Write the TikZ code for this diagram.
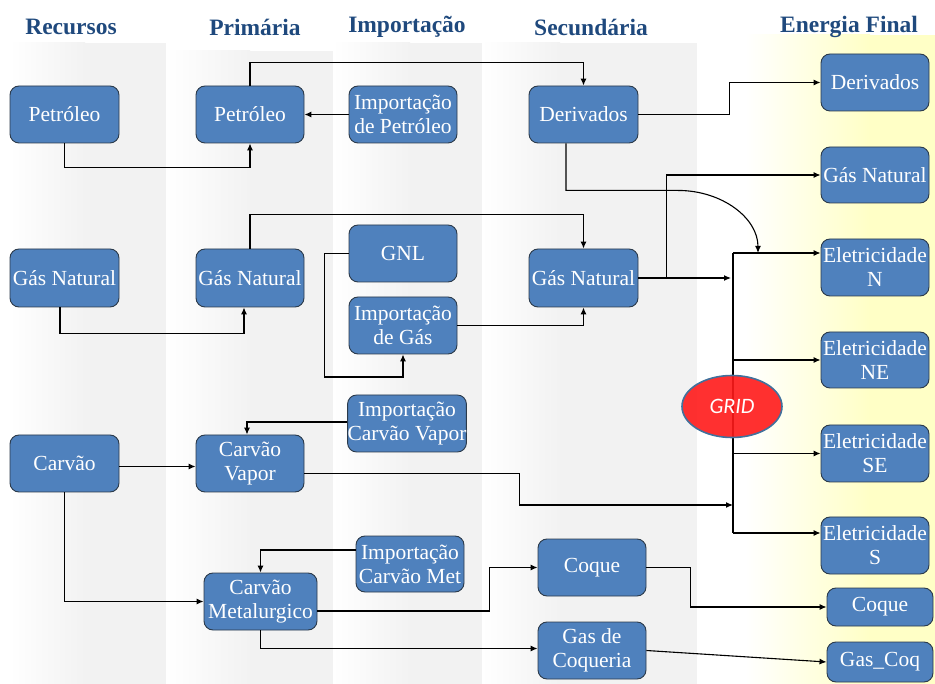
\documentclass[tikz,border=0pt]{standalone}
\usepackage{fontspec}
\setmainfont{Liberation Serif}
\newfontfamily\gridfont{Carlito}
\usetikzlibrary{arrows.meta,shapes.geometric}
\definecolor{boxblue}{HTML}{4F81BD}
\definecolor{boxedge}{HTML}{2B3A4A}
\definecolor{headblue}{HTML}{1F497D}
\definecolor{bandgray}{HTML}{F2F2F2}
\definecolor{bandyellow}{HTML}{FFFFC6}
\definecolor{gridred}{HTML}{FF1A1A}
\definecolor{gridedge}{HTML}{41719C}
\tikzset{
  box/.style={draw=boxedge, line width=0.9pt, fill=boxblue, rounded corners=9pt,
    text=white, align=center, inner sep=0pt,
    font=\fontsize{21.5}{24}\selectfont},
  head/.style={text=headblue, font=\fontsize{23.5}{26}\selectfont\bfseries},
  arr/.style={draw=black, line width=1.1pt, -{Latex[length=7pt,width=6pt]}},
  ln/.style={draw=black, line width=1.1pt},
}
\begin{document}
\begin{tikzpicture}[x=1pt,y=-1pt]
\useasboundingbox (0,0) rectangle (935,684);
% bands
\shade[left color=white, right color=bandgray] (10,43) rectangle (85,684);
\fill[bandgray] (84.5,43) rectangle (166,684);
\shade[left color=white, right color=bandgray] (166,51) rectangle (250,684);
\fill[bandgray] (249.5,51) rectangle (333,684);
\shade[left color=white, right color=bandgray] (333,43) rectangle (410,684);
\fill[bandgray] (409.5,43) rectangle (482,684);
\shade[left color=white, right color=bandgray] (482,43) rectangle (560,684);
\fill[bandgray] (559.5,43) rectangle (697,684);
\shade[left color=white, right color=bandyellow] (745,35) rectangle (870,684);
\fill[bandyellow] (869.5,35) rectangle (935,684);
% headers
\node[head] (h1) at (71,27) {Recursos};
\node[head] (h2) at (255,27) {Primária};
\node[head] (h3) at (407,27) {Importação};
\node[head] (h4) at (591,27) {Secundária};
\node[head] (h5) at (849,27) {Energia Final};
% nodes
\node[box, minimum width=109pt, minimum height=57pt] (pr) at (64.5,114.5) {Petróleo};
\node[box, minimum width=108pt, minimum height=57pt] (pp) at (250,114.5) {Petróleo};
\node[box, minimum width=108pt, minimum height=57pt] (ip) at (403,114.5) {Importação\\de Petróleo};
\node[box, minimum width=109pt, minimum height=57pt] (ds) at (583.5,114.5) {Derivados};
\node[box, minimum width=108pt, minimum height=57pt] (df) at (875,82.5) {Derivados};
\node[box, minimum width=108pt, minimum height=56pt] (gf) at (875,175) {Gás Natural};
\node[box, minimum width=109pt, minimum height=58pt] (gr) at (64.5,278) {Gás Natural};
\node[box, minimum width=108pt, minimum height=58pt] (gp) at (250,278) {Gás Natural};
\node[box, minimum width=108pt, minimum height=57pt] (gnl) at (403,253.5) {GNL};
\node[box, minimum width=108pt, minimum height=57pt] (ig) at (403,325.5) {Importação\\de Gás};
\node[box, minimum width=109pt, minimum height=58pt] (gs) at (583.5,278) {Gás Natural};
\node[box, minimum width=108pt, minimum height=57pt] (en) at (875,267.5) {Eletricidade\\N};
\node[box, minimum width=108pt, minimum height=56pt] (ene) at (875,360) {Eletricidade\\NE};
\node[box, minimum width=116pt, minimum height=57pt] (icv) at (407,423.5) {Importação\\Carvão Vapor};
\node[box, minimum width=109pt, minimum height=57pt] (cr) at (64.5,463.5) {Carvão};
\node[box, minimum width=108pt, minimum height=57pt] (cvp) at (250,463.5) {Carvão\\Vapor};
\node[box, minimum width=108pt, minimum height=57pt] (ese) at (875,453.5) {Eletricidade\\SE};
\node[box, minimum width=108pt, minimum height=57pt] (es) at (875,545.5) {Eletricidade\\S};
\node[box, minimum width=108pt, minimum height=56pt] (icm) at (410,564) {Importação\\Carvão Met};
\node[box, minimum width=113pt, minimum height=57pt] (cm) at (260.5,601.5) {Carvão\\Metalurgico};
\node[box, minimum width=108pt, minimum height=57pt] (cs) at (592,567.5) {Coque};
\node[box, minimum width=108pt, minimum height=57pt] (gc) at (592,650.5) {Gas de\\Coqueria};
\node[box, minimum width=106pt, minimum height=38pt] (cf) at (880,607) {Coque};
\node[box, minimum width=106pt, minimum height=40pt] (gcf) at (880,662) {Gas\_Coq};
% grid coordinates
\coordinate (gt) at (733,253);
\coordinate (gb) at (733,533);
\coordinate (gcurve) at (758,253);
\coordinate (gin) at (731,278);
\coordinate (gcv) at (733,505);
% connectors
\draw[arr] (pr.south) -- ++(0,24) -| (pp.south);
\draw[arr] (ip.west) -- (pp.east);
\draw[arr] (pp.north) -- ++(0,-23) -| (ds.north);
\draw[arr] (ds.east) -- ++(91,0) |- (df.west);
\draw[arr] ([xshift=-17.5pt]ds.south) -- ++(0,47) -- ++(112,0) .. controls ++(44,0) and ++(0,-35) .. (gcurve);
\draw[arr] (gs.east) -- (gin);
\draw[arr] ([xshift=28pt]gs.east) |- (gf.west);
\draw[arr] ([xshift=-4.5pt]gr.south) -- ++(0,26) -| ([xshift=-6pt]gp.south);
\draw[arr] (gp.north) -- ++(0,-34) -| (gs.north);
\draw[arr] (gnl.west) -- ++(-24,0) -- ++(0,123.5) -| (ig.south);
\draw[arr] (ig.east) -| (gs.south);
\draw[arr] ([yshift=1.5pt]icv.west) -| ([xshift=-3pt]cvp.north);
\draw[arr] ([yshift=-3pt]cr.east) -- ([yshift=-3pt]cvp.west);
\draw[arr] ([yshift=-10pt]cvp.east) -- ++(215,0) |- (gcv);
\draw[arr] (cr.south) |- (cm.west);
\draw[arr] ([yshift=14pt]icm.west) -| (cm.north);
\draw[arr] ([yshift=-9.5pt]cm.east) -- ++(172,0) |- (cs.west);
\draw[arr] (cm.south) |- ([yshift=2pt]gc.west);
\draw[arr] (cs.east) -- ++(44,0) |- (cf.west);
\draw[arr] (gc.east) -- (gcf.west);
% grid bus
\draw[ln] (gt) -- (gb);
\draw[arr] (gt) -- (gt -| en.west);
\draw[arr] (gt |- ene.west) -- (ene.west);
\draw[arr] (gt |- ese.west) -- (ese.west);
\draw[arr] (gb) -- (gb -| es.west);
% GRID
\node[ellipse, draw=gridedge, line width=1.6pt, fill=gridred, fill opacity=0.9, text opacity=1,
  minimum width=100pt, minimum height=62pt, text=white,
  font=\gridfont\itshape\fontsize{22}{24}\selectfont] (grid) at (732,406.5) {GRID};
\end{tikzpicture}
\end{document}
